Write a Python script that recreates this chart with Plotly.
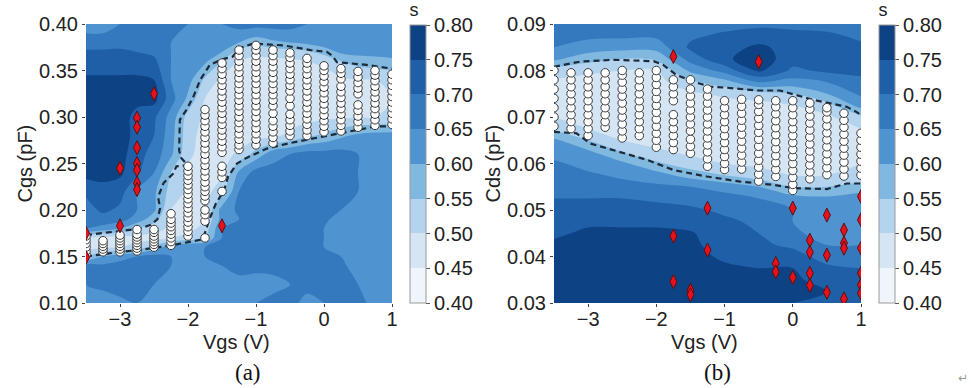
import plotly.graph_objects as go

# ---------------- data ----------------
vgs_grid_a = [-3.5, -3.25, -3.0, -2.75, -2.5, -2.25, -2.0, -1.75, -1.5, -1.25,
              -1.0, -0.75, -0.5, -0.25, 0.0, 0.25, 0.5, 0.75, 1.0]
cgs_grid = [0.10, 0.12, 0.14, 0.15, 0.16, 0.17, 0.18, 0.19, 0.20, 0.22, 0.24,
            0.26, 0.28, 0.30, 0.32, 0.34, 0.36, 0.37, 0.38, 0.40]
# s values, one row per Cgs grid value (bottom -> top), one entry per Vgs grid value
s_cgs = [
    [0.58,0.58,0.59,0.60,0.58,0.57,0.57,0.58,0.57,0.58,0.60,0.62,0.62,0.58,0.60,0.62,0.62,0.58,0.57],
    [0.60,0.61,0.62,0.61,0.60,0.58,0.57,0.57,0.58,0.58,0.57,0.58,0.60,0.62,0.62,0.62,0.60,0.58,0.58],
    [0.60,0.61,0.62,0.62,0.62,0.60,0.58,0.57,0.60,0.62,0.62,0.62,0.62,0.62,0.62,0.61,0.58,0.57,0.58],
    [0.50,0.55,0.58,0.60,0.62,0.60,0.60,0.60,0.62,0.62,0.63,0.62,0.62,0.62,0.62,0.60,0.58,0.57,0.57],
    [0.43,0.44,0.45,0.47,0.52,0.58,0.60,0.60,0.62,0.62,0.62,0.62,0.62,0.61,0.60,0.58,0.57,0.58,0.58],
    [0.45,0.43,0.43,0.43,0.43,0.45,0.47,0.50,0.60,0.62,0.62,0.62,0.62,0.61,0.60,0.58,0.57,0.57,0.58],
    [0.60,0.58,0.55,0.50,0.47,0.44,0.43,0.47,0.60,0.62,0.62,0.62,0.62,0.62,0.60,0.58,0.57,0.58,0.60],
    [0.62,0.63,0.62,0.58,0.52,0.44,0.43,0.45,0.57,0.60,0.62,0.62,0.62,0.62,0.61,0.58,0.57,0.58,0.60],
    [0.63,0.66,0.64,0.60,0.56,0.45,0.43,0.45,0.57,0.61,0.62,0.62,0.62,0.62,0.62,0.60,0.58,0.58,0.60],
    [0.66,0.68,0.67,0.60,0.56,0.48,0.44,0.43,0.48,0.60,0.62,0.62,0.62,0.62,0.62,0.61,0.60,0.58,0.60],
    [0.72,0.72,0.71,0.66,0.60,0.50,0.44,0.43,0.44,0.56,0.62,0.62,0.62,0.62,0.62,0.62,0.60,0.60,0.60],
    [0.73,0.73,0.72,0.67,0.63,0.56,0.46,0.43,0.43,0.46,0.52,0.58,0.60,0.62,0.62,0.62,0.60,0.60,0.60],
    [0.73,0.74,0.73,0.68,0.65,0.57,0.47,0.43,0.42,0.42,0.43,0.44,0.46,0.49,0.51,0.54,0.56,0.57,0.57],
    [0.73,0.74,0.73,0.68,0.66,0.58,0.48,0.44,0.42,0.42,0.42,0.42,0.43,0.43,0.44,0.44,0.45,0.45,0.46],
    [0.73,0.74,0.74,0.72,0.72,0.62,0.54,0.45,0.43,0.42,0.42,0.42,0.42,0.42,0.43,0.43,0.44,0.44,0.45],
    [0.71,0.71,0.71,0.71,0.70,0.60,0.57,0.49,0.44,0.43,0.42,0.42,0.42,0.43,0.43,0.44,0.45,0.45,0.46],
    [0.67,0.67,0.67,0.67,0.66,0.60,0.58,0.56,0.50,0.45,0.44,0.44,0.44,0.45,0.46,0.50,0.52,0.53,0.54],
    [0.66,0.66,0.66,0.65,0.64,0.60,0.58,0.57,0.55,0.48,0.46,0.47,0.48,0.49,0.52,0.56,0.57,0.57,0.57],
    [0.62,0.62,0.63,0.62,0.62,0.60,0.59,0.58,0.57,0.55,0.52,0.54,0.55,0.56,0.58,0.57,0.57,0.57,0.57],
    [0.58,0.58,0.60,0.62,0.62,0.62,0.60,0.58,0.60,0.62,0.62,0.62,0.62,0.60,0.60,0.58,0.57,0.57,0.57],
]

vgs_grid_b = [-3.5, -3.0, -2.5, -2.0, -1.5, -1.0, -0.5, 0.0, 0.5, 1.0]
cds_grid = [0.030, 0.0325, 0.035, 0.0375, 0.040, 0.0425, 0.045, 0.0475, 0.050,
            0.0525, 0.055, 0.0575, 0.060, 0.0625, 0.065, 0.0675, 0.070, 0.0725,
            0.075, 0.0775, 0.080, 0.0825, 0.085, 0.0875, 0.090]
# s values, one list per Vgs grid value (each bottom -> top along Cds)
s_cds_cols = [
    [0.72,0.72,0.72,0.72,0.72,0.71,0.69,0.67,0.66,0.65,0.63,0.62,0.61,0.58,0.56,0.49,0.45,0.43,0.42,0.44,0.48,0.56,0.60,0.62,0.63],
    [0.72,0.72,0.72,0.72,0.72,0.72,0.71,0.69,0.67,0.65,0.63,0.61,0.58,0.56,0.50,0.45,0.43,0.42,0.42,0.43,0.46,0.52,0.58,0.61,0.63],
    [0.72,0.72,0.72,0.72,0.72,0.72,0.71,0.69,0.67,0.65,0.62,0.59,0.56,0.50,0.45,0.43,0.42,0.42,0.42,0.43,0.45,0.50,0.57,0.61,0.62],
    [0.77,0.77,0.755,0.73,0.72,0.72,0.71,0.69,0.67,0.64,0.61,0.57,0.51,0.46,0.43,0.42,0.42,0.42,0.42,0.43,0.45,0.51,0.57,0.61,0.62],
    [0.78,0.78,0.76,0.73,0.72,0.71,0.705,0.68,0.66,0.63,0.60,0.53,0.47,0.44,0.42,0.42,0.42,0.42,0.44,0.49,0.56,0.62,0.66,0.64,0.62],
    [0.72,0.72,0.72,0.71,0.69,0.68,0.67,0.66,0.64,0.62,0.58,0.50,0.45,0.43,0.42,0.42,0.42,0.43,0.46,0.53,0.62,0.69,0.68,0.66,0.63],
    [0.72,0.72,0.71,0.70,0.68,0.66,0.65,0.64,0.62,0.60,0.55,0.47,0.44,0.42,0.42,0.42,0.42,0.43,0.48,0.60,0.71,0.73,0.71,0.67,0.64],
    [0.70,0.71,0.71,0.70,0.67,0.64,0.61,0.60,0.60,0.57,0.50,0.45,0.43,0.42,0.42,0.42,0.43,0.45,0.50,0.58,0.64,0.67,0.68,0.66,0.64],
    [0.69,0.70,0.68,0.66,0.63,0.60,0.58,0.57,0.58,0.56,0.50,0.45,0.43,0.42,0.42,0.42,0.44,0.48,0.55,0.60,0.66,0.67,0.67,0.66,0.63],
    [0.70,0.70,0.68,0.65,0.62,0.60,0.59,0.60,0.60,0.58,0.52,0.47,0.45,0.44,0.44,0.45,0.49,0.57,0.61,0.64,0.66,0.66,0.66,0.64,0.62],
]

# white circles (a): Vgs column -> Cgs values
pts_a = {
    -3.5: [0.152,0.156,0.160,0.164,0.168,0.172],
    -3.25: [0.155,0.158,0.161,0.164,0.167],
    -3.0: [0.155,0.158,0.161,0.164,0.167,0.170,0.173],
    -2.75: [0.156,0.159,0.162,0.165,0.168,0.171,0.174,0.179],
    -2.5: [0.160,0.163,0.166,0.169,0.172,0.176,0.179],
    -2.25: [0.162,0.166,0.170,0.174,0.178,0.182,0.186,0.190,0.196],
    -2.0: [0.172,0.177,0.182,0.187,0.192,0.197,0.202,0.207,0.212,0.217,0.222,0.227,0.232,0.237,0.242,0.247],
    -1.75: [0.170,0.188,0.195,0.200,0.210,0.215,0.220,0.225,0.230,0.236,0.242,0.248,0.254,0.260,0.266,0.272,0.278,0.284,0.290,0.296,0.302,0.308],
    -1.5: [0.220,0.235,0.241,0.247,0.262,0.268,0.274,0.280,0.286,0.292,0.298,0.304,0.310,0.316,0.322,0.328,0.334,0.340,0.346,0.352,0.358],
    -1.25: [0.265,0.270,0.276,0.282,0.288,0.294,0.300,0.306,0.312,0.318,0.324,0.330,0.336,0.342,0.348,0.354,0.360,0.366,0.372],
    -1.0: [0.270,0.276,0.282,0.288,0.294,0.300,0.306,0.312,0.318,0.324,0.330,0.336,0.342,0.348,0.354,0.360,0.366,0.372,0.377],
    -0.75: [0.272,0.278,0.284,0.290,0.296,0.304,0.312,0.318,0.324,0.330,0.336,0.342,0.348,0.354,0.360,0.366,0.372],
    -0.5: [0.280,0.285,0.291,0.297,0.303,0.312,0.320,0.328,0.334,0.340,0.346,0.352,0.358,0.364,0.369],
    -0.25: [0.280,0.286,0.292,0.298,0.304,0.310,0.316,0.322,0.328,0.334,0.340,0.346,0.352,0.358,0.363],
    0.0: [0.284,0.290,0.296,0.302,0.308,0.314,0.320,0.326,0.332,0.338,0.344,0.350,0.355],
    0.25: [0.285,0.291,0.297,0.303,0.309,0.315,0.321,0.327,0.333,0.341,0.347,0.352],
    0.5: [0.289,0.295,0.301,0.307,0.313,0.325,0.331,0.337,0.343,0.349],
    0.75: [0.291,0.297,0.303,0.309,0.315,0.321,0.327,0.333,0.339,0.345,0.350],
    1.0: [0.292,0.298,0.304,0.310,0.316,0.322,0.328,0.334,0.340,0.346],
}
# white circles (b): Vgs column -> Cds values
pts_b = {
    -3.5: [0.068,0.070,0.072,0.074,0.076,0.078,0.080],
    -3.25: [0.0675,0.069,0.0705,0.072,0.0735,0.075,0.0765,0.078,0.0795],
    -3.0: [0.066,0.0675,0.069,0.0705,0.072,0.0735,0.075,0.0765,0.078,0.0795],
    -2.75: [0.0678,0.069,0.0705,0.072,0.0735,0.075,0.0765,0.078,0.0795],
    -2.5: [0.0655,0.067,0.0685,0.070,0.0715,0.073,0.0745,0.076,0.0775,0.079,0.080],
    -2.25: [0.066,0.0675,0.069,0.0705,0.072,0.0735,0.075,0.0765,0.078,0.0795],
    -2.0: [0.0635,0.065,0.0665,0.068,0.0695,0.071,0.0725,0.074,0.0755,0.077,0.0785,0.080],
    -1.75: [0.063,0.0645,0.066,0.0675,0.069,0.0705,0.0735,0.075,0.0765,0.078],
    -1.5: [0.0622,0.0637,0.0652,0.067,0.0685,0.070,0.0715,0.073,0.0745,0.076,0.078],
    -1.25: [0.0594,0.061,0.0625,0.064,0.0655,0.067,0.0685,0.070,0.0715,0.073,0.0745,0.076],
    -1.0: [0.0587,0.060,0.0615,0.063,0.0645,0.066,0.0675,0.069,0.0705,0.072,0.0735],
    -0.75: [0.0588,0.0603,0.0618,0.0633,0.0648,0.0663,0.0678,0.0693,0.0708,0.0723,0.0738],
    -0.5: [0.0562,0.0577,0.0592,0.0607,0.0622,0.0637,0.0652,0.0667,0.0682,0.0697,0.0712,0.0727,0.0737],
    -0.25: [0.0572,0.0587,0.0602,0.0617,0.0632,0.0647,0.0662,0.0677,0.0692,0.0707,0.0722,0.0735],
    0.0: [0.0542,0.0555,0.057,0.0585,0.060,0.0615,0.063,0.0645,0.066,0.0675,0.069,0.0705,0.072,0.0735],
    0.25: [0.0567,0.0582,0.0597,0.0612,0.0627,0.0642,0.0657,0.0672,0.0687,0.0702,0.0717,0.073],
    0.5: [0.0576,0.0591,0.0606,0.0621,0.0636,0.0651,0.0666,0.0681,0.0696,0.0711,0.072],
    0.75: [0.0573,0.0588,0.0603,0.0618,0.0633,0.0648,0.0663,0.0678,0.0693,0.0708],
    1.0: [0.0575,0.059,0.0605,0.062,0.0635,0.065,0.0665],
}

# red diamonds
red_a_vgs = [-3.5, -3.5, -3.0, -3.0, -2.75, -2.75, -2.75, -2.75, -2.75, -2.75, -2.75, -2.5, -1.5]
red_a_cgs = [0.175, 0.149, 0.245, 0.183, 0.299, 0.289, 0.267, 0.250, 0.243, 0.229, 0.222, 0.325, 0.183]
red_b_vgs = [-1.75, -0.5, -1.25, -1.75, -1.25, -1.75, -1.5, -1.5, -0.25, -0.25, 0.0, 0.0,
             0.25, 0.25, 0.25, 0.25, 0.5, 0.5, 0.5, 0.75, 0.75, 0.75, 0.75, 1.0, 1.0, 1.0, 1.0, 1.0, 1.0]
red_b_cds = [0.0830, 0.0819, 0.0504, 0.0444, 0.0414, 0.0346, 0.0327, 0.0318, 0.0385, 0.0367, 0.0504, 0.0355,
             0.0435, 0.0409, 0.0364, 0.0338, 0.0489, 0.0403, 0.0323, 0.0457, 0.0429, 0.0418, 0.0309,
             0.0529, 0.0479, 0.0418, 0.0364, 0.0339, 0.0321]

# dashed boundaries
bnd_a_low_vgs = [-3.5, -3.0, -2.71, -2.24, -1.82, -1.77, -1.69, -1.59, -1.47, -1.41, -1.28, -1.14, -0.84, -0.5, 0.13, 0.5, 0.77, 1.0]
bnd_a_low_cgs = [0.150, 0.155, 0.157, 0.162, 0.168, 0.171, 0.189, 0.207, 0.221, 0.236, 0.250, 0.256, 0.266, 0.272, 0.281, 0.286, 0.290, 0.290]
bnd_a_up_vgs = [-3.5, -3.0, -2.71, -2.55, -2.45, -2.41, -2.44, -2.36, -2.22, -2.17, -2.0, -2.1, -2.13, -2.12,
                -2.02, -1.92, -1.82, -1.68, -1.5, -1.34, -1.24, -1.04, -0.6, -0.2, 0.04, 0.12, 0.19, 0.63, 1.0]
bnd_a_up_cgs = [0.173, 0.177, 0.180, 0.184, 0.190, 0.202, 0.214, 0.229, 0.239, 0.247, 0.248, 0.256, 0.264, 0.297,
                0.308, 0.322, 0.340, 0.356, 0.362, 0.365, 0.374, 0.379, 0.377, 0.372, 0.370, 0.366, 0.359, 0.356, 0.352]
bnd_b_up_vgs = [-3.5, -3.12, -2.63, -2.04, -1.9, -1.7, -1.46, -1.21, -0.97, -0.53, -0.19, 0.3, 0.79, 0.92, 1.0]
bnd_b_up_cds = [0.0808, 0.0819, 0.0823, 0.0820, 0.0812, 0.0790, 0.0776, 0.0765, 0.0763, 0.0757, 0.0757, 0.0737, 0.0722, 0.0712, 0.0704]
bnd_b_low_vgs = [-3.5, -3.17, -2.97, -2.48, -2.14, -1.75, -1.26, -0.77, -0.28, 0.01, 0.5, 0.79, 1.0]
bnd_b_low_cds = [0.0668, 0.0665, 0.0643, 0.0622, 0.0608, 0.0586, 0.0572, 0.0561, 0.0554, 0.0547, 0.0545, 0.0557, 0.0557]

s_levels = [0.40, 0.45, 0.50, 0.55, 0.60, 0.65, 0.70, 0.75, 0.80]
band_colors = ['#eff5fb', '#d5e5f4', '#b4d3ee', '#80b8e0', '#4f94d0', '#3479bd', '#1f5fa7', '#0d4285']

# ---------------- styling helpers ----------------
W, H = 971, 388
FONT = "Liberation Sans, Arial, sans-serif"
n_lv = len(s_levels)
# fill colours of the contour bands (plotly samples band j at j/n_levels)
cont_scale = []
for k in range(0, n_lv + 1):
    cont_scale.append([k / n_lv, band_colors[min(k, len(band_colors) - 1)]])
# stepwise colour bar
cb_scale = []
nb = len(band_colors)
for i, c in enumerate(band_colors):
    cb_scale.append([i / nb, c])
    cb_scale.append([(i + 1) / nb, c])

def px_x(p):
    return p / W

def px_y(p):
    return (H - p) / H

panels = [
    dict(xa='x', ya='y', xd=[86, 392], cb=410, gx=vgs_grid_a, gy=cgs_grid, z=s_cgs,
         pts=pts_a, rx=red_a_vgs, ry=red_a_cgs,
         bnd=[(bnd_a_low_vgs, bnd_a_low_cgs), (bnd_a_up_vgs, bnd_a_up_cgs)],
         yr=[0.10, 0.40], ytitle='Cgs (pF)', ytx=25, label='(a)', lx=248),
    dict(xa='x2', ya='y2', xd=[554, 861], cb=879, gx=vgs_grid_b, gy=cds_grid,
         z=[list(r) for r in zip(*s_cds_cols)],
         pts=pts_b, rx=red_b_vgs, ry=red_b_cds,
         bnd=[(bnd_b_low_vgs, bnd_b_low_cds), (bnd_b_up_vgs, bnd_b_up_cds)],
         yr=[0.03, 0.09], ytitle='Cds (pF)', ytx=493, label='(b)', lx=717),
]

fig = go.Figure()
annotations = []
for i, p in enumerate(panels):
    fig.add_trace(go.Contour(
        x=p['gx'], y=p['gy'], z=p['z'], xaxis=p['xa'], yaxis=p['ya'],
        autocontour=False,
        contours=dict(start=s_levels[0], end=s_levels[-1], size=0.05,
                      coloring='fill', showlines=False),
        colorscale=cont_scale, showscale=False, line=dict(width=0, smoothing=1.0),
        hoverinfo='skip'))
    for bx, by in p['bnd']:
        fig.add_trace(go.Scatter(x=bx, y=by, xaxis=p['xa'], yaxis=p['ya'], mode='lines',
                                 line=dict(color='#1c2a3a', width=2.2, dash='6px,4px'),
                                 showlegend=False, hoverinfo='skip'))
    wx, wy = [], []
    for v, ys in p['pts'].items():
        for yv in ys:
            wx.append(v)
            wy.append(yv)
    fig.add_trace(go.Scatter(x=wx, y=wy, xaxis=p['xa'], yaxis=p['ya'], mode='markers',
                             marker=dict(symbol='circle', size=8.5, color='white',
                                         line=dict(color='#3a3a3a', width=1)),
                             showlegend=False, hoverinfo='skip'))
    fig.add_trace(go.Scatter(x=p['rx'], y=p['ry'], xaxis=p['xa'], yaxis=p['ya'], mode='markers',
                             marker=dict(symbol='diamond-tall', size=10, color='#e8101a',
                                         line=dict(color='#5a1010', width=1)),
                             showlegend=False, hoverinfo='skip'))
    # colour bar (the title on top takes ~24 px of the bar's length)
    fig.add_trace(go.Scatter(
        x=[-100], y=[p['yr'][0]], xaxis=p['xa'], yaxis=p['ya'], mode='markers',
        marker=dict(color=[0.4], colorscale=cb_scale, cmin=0.4, cmax=0.8, size=1,
                    showscale=True,
                    colorbar=dict(x=px_x(p['cb']), xanchor='left', xpad=0, ypad=0,
                                  y=px_y(151.5), yanchor='middle', len=303 / H, lenmode='fraction',
                                  thickness=16, thicknessmode='pixels',
                                  outlinewidth=1, outlinecolor='#9a9a9a',
                                  tickvals=s_levels, ticktext=['%.2f' % v for v in s_levels],
                                  ticks='outside', ticklen=4, tickcolor='#555',
                                  tickfont=dict(family=FONT, size=20, color='#222'),
                                  title=dict(text='s', side='top',
                                             font=dict(family=FONT, size=18, color='#222')))),
        showlegend=False, hoverinfo='skip'))

    xkey = 'xaxis' if i == 0 else 'xaxis2'
    ykey = 'yaxis' if i == 0 else 'yaxis2'
    fig.update_layout(**{
        xkey: dict(domain=[px_x(p['xd'][0]), px_x(p['xd'][1])], range=[-3.5, 1.0],
                   anchor=p['ya'], tickvals=[-3, -2, -1, 0, 1], ticks='outside', ticklen=3,
                   tickcolor='#444', showgrid=False, zeroline=False, showline=False,
                   ticklabelstandoff=-5,
                   tickfont=dict(family=FONT, size=20, color='#222'), automargin=False),
        ykey: dict(domain=[px_y(303), px_y(24)], range=p['yr'], anchor=p['xa'],
                   dtick=(0.05 if i == 0 else 0.01), tick0=p['yr'][0], tickformat='.2f',
                   ticks='outside', ticklen=3, tickcolor='#444', showgrid=False,
                   zeroline=False, showline=False, automargin=False,
                   tickfont=dict(family=FONT, size=20, color='#222')),
    })
    cx = (p['xd'][0] + p['xd'][1]) / 2
    annotations.append(dict(text='Vgs (V)', x=px_x(cx - 3), y=px_y(342), xref='paper', yref='paper',
                            showarrow=False, xanchor='center', yanchor='middle',
                            font=dict(family=FONT, size=20, color='#222')))
    annotations.append(dict(text=p['ytitle'], x=px_x(p['ytx']), y=px_y(163.5), xref='paper',
                            yref='paper', showarrow=False, textangle=-90, xanchor='center',
                            yanchor='middle', font=dict(family=FONT, size=20, color='#222')))
    annotations.append(dict(text=p['label'], x=px_x(p['lx']), y=px_y(372), xref='paper',
                            yref='paper', showarrow=False, xanchor='center', yanchor='middle',
                            font=dict(family='Liberation Serif, Times New Roman, serif', size=23,
                                      color='#111')))

annotations.append(dict(text='↵', x=px_x(963), y=px_y(378), xref='paper', yref='paper',
                        showarrow=False, xanchor='center', yanchor='middle',
                        font=dict(family='DejaVu Sans', size=12, color='#999')))

fig.update_layout(width=W, height=H, margin=dict(l=0, r=0, t=0, b=0, autoexpand=False),
                  paper_bgcolor='white', plot_bgcolor='white', showlegend=False,
                  annotations=annotations)

fig.write_html("out.html", config={'displayModeBar': False},
               post_script="document.body.style.margin='0px';")
